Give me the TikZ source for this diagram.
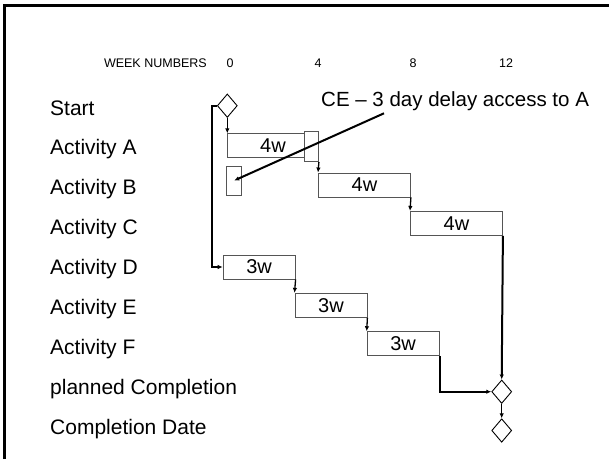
\documentclass[tikz,border=0pt]{standalone}
\usepackage{fontspec}
\setmainfont{Liberation Sans}
\usetikzlibrary{positioning,shapes.geometric,arrows.meta}
\definecolor{BarLine}{HTML}{555555}
\definecolor{LinkBlack}{HTML}{000000}
\tikzset{
  rowlabel/.style={anchor=base west,inner sep=0pt,font=\fontsize{21}{24}\selectfont},
  weeklabel/.style={inner sep=0pt,font=\fontsize{12.5}{14}\selectfont},
  bar/.style={draw=BarLine,line width=0.9pt,anchor=west,minimum height=24pt,inner sep=0pt,font=\fontsize{20}{22}\selectfont},
  markbox/.style={draw=BarLine,fill=white,line width=0.9pt,inner sep=0pt},
  milestone/.style={diamond,draw,line width=0.9pt,minimum width=20pt,minimum height=23.5pt,inner sep=0pt},
  link/.style={draw=LinkBlack,line width=1.3pt,-{Latex[length=5pt,width=4.5pt]}},
  heavylink/.style={link,line width=2pt},
}

\begin{document}
\begin{tikzpicture}[x=1pt,y=-1pt]
        \useasboundingbox (0,0) rectangle (609,459);
        \draw[line width=3pt] (4.5,459) |- (609,5.5);
        \node[weeklabel,anchor=east] (weeks) at (207,62.7) {WEEK NUMBERS};
        \foreach \w/\xpos in {0/230,4/318,8/413,12/506} {
          \node[weeklabel] (wk\w) at (\xpos,62.7) {\w};
        }
        \foreach \name/\txt [count=\i from 0] in {start/Start,actA/Activity A,actB/Activity B,actC/Activity C,actD/Activity D,actE/Activity E,actF/Activity F,planned/planned Completion,done/Completion Date} {
          \node[rowlabel] (row-\name) at (50,{115+39.9*\i}) {\txt};
        }
        \node[bar,minimum width=91pt] (barA) at (227,145.8) {4w};
        \node[markbox,anchor=west,minimum width=14pt,minimum height=30pt] (delay) at (304,146.7) {};
        \node[markbox,minimum width=15pt,minimum height=29pt] (boxB) at (234.2,180.5) {};
        \node[bar,minimum width=92pt] (barB) at (318,185) {4w};
        \node[bar,minimum width=92pt] (barC) at (410,223.4) {4w};
        \node[bar,minimum width=72pt] (barD) at (222.7,267) {3w};
        \node[bar,minimum width=72pt] (barE) at (294.5,305.3) {3w};
        \node[bar,minimum width=72pt] (barF) at (366.7,343.7) {3w};
        \node[milestone] (start) at (227.3,105.7) {};
        \node[milestone] (planned) at (501.7,391.7) {};
        \node[milestone] (done) at (501.7,430.5) {};
        \node[rowlabel,font=\fontsize{20.5}{24}\selectfont] (note) at (321,106.7) {CE \textendash{} 3 day delay access to A};
        \coordinate (noteTail) at (384,113.3);
        \draw[link] (start.south) -- (start.south |- barA.north);
        \draw[heavylink] (start.west) -- ++(-5,0) |- (barD.west);
        \draw[link] (delay.south east) -- (barB.north west);
        \draw[link] (barB.south east) -- (barC.north west);
        \draw[heavylink] (barC.south east) -- (planned.north);
        \draw[link] (barD.south east) -- (barE.north west);
        \draw[link] (barE.south east) -- (barF.north west);
        \draw[heavylink] (barF.south east) |- (planned.west);
        \draw[link] (planned.south) -- (done.north);
        \draw[heavylink] (noteTail) -- (boxB.center);
      \end{tikzpicture}
\end{document}
